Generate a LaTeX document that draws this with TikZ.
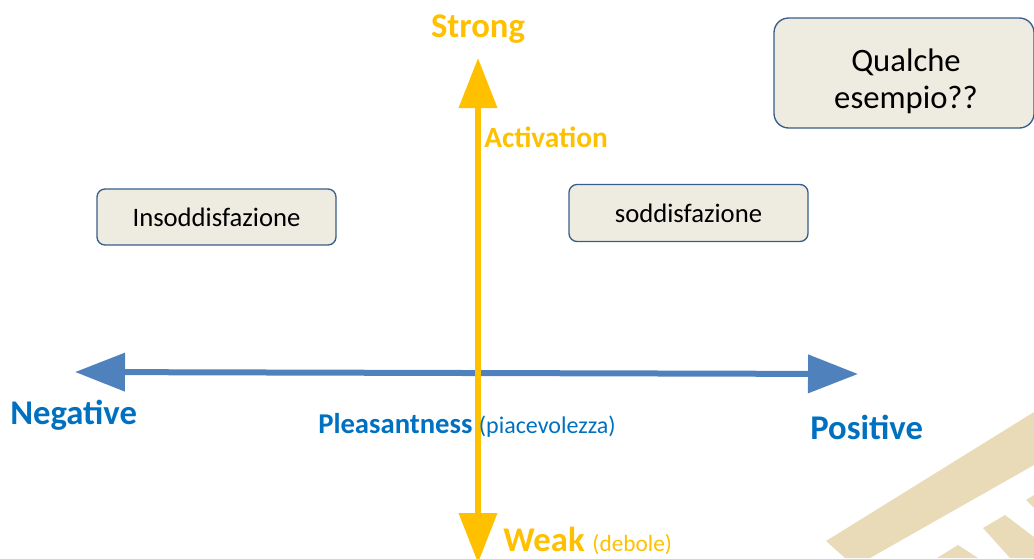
\documentclass[tikz,border=0pt]{standalone}
\usepackage{fontspec}
\setmainfont{Carlito}
\usepackage{xcolor}
\usetikzlibrary{arrows.meta}

\definecolor{axisyellow}{HTML}{FFC000}
\definecolor{axisblue}{HTML}{4F81BD}
\definecolor{labelblue}{HTML}{0070C0}
\definecolor{boxfill}{HTML}{EEECE1}
\definecolor{boxline}{HTML}{385D8A}
\definecolor{stripe}{HTML}{E9DBB8}

\begin{document}
\begin{tikzpicture}[x=0.75pt, y=-0.75pt,
    emotion/.style={draw=boxline, line width=1pt, fill=boxfill, rounded corners=6pt,
                    font=\fontsize{20}{24}\selectfont},
    axisarrow/.style={line width=4.5pt, {Triangle[length=37.5pt, width=28pt]}-{Triangle[length=37.5pt, width=28pt]}}]
                \useasboundingbox (0,0) rectangle (1034,558);

                % Watermark
                \fill[stripe] (826,541) -- (1034,412) -- (1034,465) -- (870,558) -- (845,558) -- cycle;
                \fill[stripe] (983,528) -- (1005,515) -- (1034,537) -- (1034,558) -- (1010,558) -- cycle;
                \fill[stripe] (937,558) -- (958,545) -- (978,558) -- cycle;
                \fill[stripe] (1026,500) -- (1034,495) -- (1034,508) -- cycle;

                % Axis ends
                \coordinate (neg) at (75,372);
                \coordinate (pos) at (858,374);
                \coordinate (strong) at (478,58);
                \coordinate (weak) at (478,563);

                % Axes
                \draw[axisarrow, axisblue] (neg) -- (pos);  % Pleasantness
                \draw[axisarrow, axisyellow] (weak) -- (strong); % Activation

                % Labels
                \node[anchor=base, inner sep=0pt, text=axisyellow, font=\fontsize{26}{30}\selectfont\bfseries] (strongl) at (478,37) {Strong};
                \node[anchor=base west, inner sep=0pt, text=axisyellow, font=\fontsize{22}{26}\selectfont\bfseries] (activ) at (484,147) {Activation};
                \node[anchor=base west, inner sep=0pt, text=labelblue, font=\fontsize{26}{30}\selectfont\bfseries] (negl) at (10,424) {Negative};
                \node[anchor=base west, inner sep=0pt, text=labelblue, font=\fontsize{26}{30}\selectfont\bfseries] (posl) at (810,439) {Positive};
                \node[anchor=base west, inner sep=0pt, text=labelblue, font=\fontsize{21.5}{25}\selectfont] (pleas) at (318,433) {\textbf{Pleasantness} {\fontsize{18}{21}\selectfont(piacevolezza)}};
                \node[anchor=base west, inner sep=0pt, text=axisyellow, font=\fontsize{26}{30}\selectfont] (weakl) at (503,551) {\textbf{Weak} {\fontsize{17.5}{21}\selectfont(debole)}};

                % Boxes
                \node[emotion, minimum width=179.25pt, minimum height=42pt] (insodd) at (216.5,217) {Insoddisfazione};
                \node[emotion, minimum width=179.25pt, minimum height=42.75pt] (sodd) at (688.5,213) {soddisfazione};
                \node[emotion, rounded corners=11pt, minimum width=195pt, minimum height=82.5pt] (esempio) at (904,73) {};
                \node[align=center, font=\fontsize{24.5}{27.5}\selectfont] (esempiotxt) at (906,81) {Qualche\\esempio??};
            \end{tikzpicture}
\end{document}
